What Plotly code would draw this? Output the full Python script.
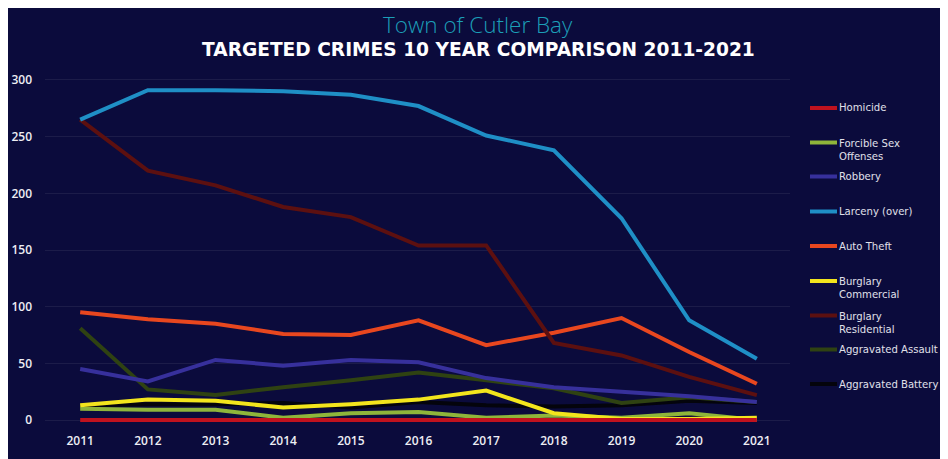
import plotly.graph_objects as go

years = [2011, 2012, 2013, 2014, 2015, 2016, 2017, 2018, 2019, 2020, 2021]

homicide = [0, 0, 0, 0, 0, 0, 0, 0, 0, 0, 0]
forcible_sex = [10, 9, 9, 2, 6, 7, 2, 4, 2, 6, 0]
robbery = [45, 34, 53, 48, 53, 51, 37, 29, 25, 21, 16]
larceny = [265, 291, 291, 290, 287, 277, 251, 238, 178, 88, 54]
auto_theft = [95, 89, 85, 76, 75, 88, 66, 77, 90, 60, 32]
burglary_commercial = [13, 18, 17, 11, 14, 18, 26, 6, 1, 1, 2]
burglary_residential = [265, 220, 207, 188, 179, 154, 154, 68, 57, 38, 22]
aggravated_assault = [81, 27, 22, 29, 35, 42, 35, 28, 15, 20, 16]
aggravated_battery = [13, 14, 14, 15, 11, 16, 13, 12, 13, 17, 15]

series_names = ["Homicide", "Forcible Sex<br>Offenses", "Robbery", "Larceny (over)",
                "Auto Theft", "Burglary<br>Commercial", "Burglary<br>Residential",
                "Aggravated Assault", "Aggravated Battery"]
series_values = [homicide, forcible_sex, robbery, larceny, auto_theft,
                 burglary_commercial, burglary_residential, aggravated_assault,
                 aggravated_battery]
colors = ["#c0121e", "#8fb53a", "#37309c", "#1f8fc6", "#e8471f",
          "#f3e51d", "#5c1010", "#2f4212", "#04040c"]
y_ticks = [0, 50, 100, 150, 200, 250, 300]

# geometry: page body adds an 8px offset, so the figure is 8px smaller
OFF = 8
FW, FH = 948 - OFF, 459 - OFF
L, R, T, B = 37, 158, 62, 29
PW, PH = FW - L - R, FH - T - B
BG = "#0b0b3c"

def px_x(p):  # p: pixel in the page picture
    return (p - OFF - L) / PW

def px_y(p):
    return (FH - B - (p - OFF)) / PH

draw_order = [8, 7, 1, 5, 0, 2, 4, 6, 3]

fig = go.Figure()
for i in draw_order:
    fig.add_trace(go.Scatter(
        x=years, y=series_values[i], mode="lines",
        name=series_names[i].replace("<br>", " "),
        line=dict(color=colors[i], width=4),
        showlegend=False,
    ))

annotations = [
    dict(text="Town of Cutler Bay", x=px_x(478), y=px_y(24), xref="paper", yref="paper",
         xanchor="center", yanchor="middle", showarrow=False,
         font=dict(family="Open Sans", size=22.5, color="#1c9fb8", weight=300)),
    dict(text="<b>TARGETED CRIMES 10 YEAR COMPARISON 2011-2021</b>", x=px_x(478), y=px_y(50),
         xref="paper", yref="paper", xanchor="center", yanchor="middle", showarrow=False,
         font=dict(family="DejaVu Sans", size=18.6, color="#ffffff")),
]
shapes = []

legend_first_line_y = [108, 142.5, 176.5, 211.5, 246, 281, 315.5, 349.5, 384]
for name, col, py in zip(series_names, colors, legend_first_line_y):
    nlines = name.count("<br>") + 1
    center = py + (nlines - 1) * 7.3
    annotations.append(dict(text=name, x=px_x(837), y=px_y(center), xref="paper", yref="paper",
                            xanchor="left", yanchor="middle", align="left", showarrow=False,
                            font=dict(family="DejaVu Sans", size=10.1, color="#e0e0ea")))
    shapes.append(dict(type="line", xref="paper", yref="paper", x0=px_x(810), x1=px_x(837),
                       y0=px_y(py), y1=px_y(py), line=dict(color=col, width=4)))

fig.update_layout(
    width=FW, height=FH,
    margin=dict(l=L, r=R, t=T, b=B),
    paper_bgcolor=BG,
    plot_bgcolor=BG,
    showlegend=False,
    annotations=annotations,
    shapes=shapes,
    xaxis=dict(range=[2010.48, 2021.49], tickvals=years, ticktext=[str(y) for y in years],
               showgrid=False, zeroline=False, showline=False, ticks="", automargin=False,
               tickfont=dict(family="Open Sans", size=12, color="#eeeef4", weight=600),
               ticklabelstandoff=2),
    yaxis=dict(range=[-8.8, 308.8], tickvals=y_ticks, showgrid=True, automargin=False,
               gridcolor="rgba(255,255,255,0.07)", gridwidth=1, zeroline=False, showline=False,
               ticks="", tickfont=dict(family="Open Sans", size=12, color="#eeeef4", weight=600),
               ticklabelstandoff=12),
)

fig.write_html("out.html")
